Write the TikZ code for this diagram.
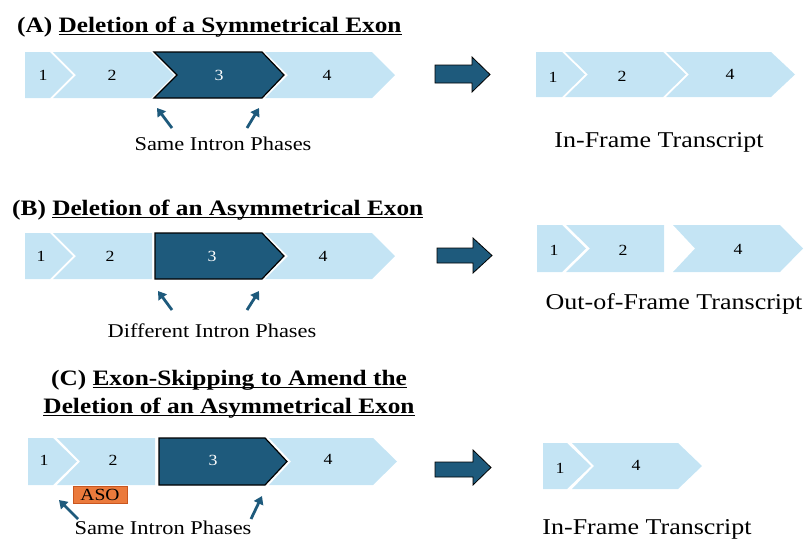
\documentclass[tikz,border=0pt]{standalone}
\usepackage{fontspec}
\setmainfont[FakeStretch=1.15]{Liberation Serif}
\usetikzlibrary{arrows.meta}
\definecolor{lightexon}{HTML}{C4E4F4}
\definecolor{darkexon}{HTML}{1E5A7C}
\definecolor{asofill}{HTML}{EB7A3C}
\definecolor{asoedge}{HTML}{C9561F}
\newsavebox\ulinebox
\newcommand{\ulin}[1]{\sbox\ulinebox{#1}\rlap{\rule[-3.2pt]{\wd\ulinebox}{1.5pt}}\usebox\ulinebox}
% style, xl, xr, yt, yb, notch, tip
\newcommand{\exonpoly}[7]{%
  \path[#1] (#2,#4) -- (#3,#4) -- ({#3+#7},{(#4+#5)/2}) -- (#3,#5) -- (#2,#5) -- ({#2+#6},{(#4+#5)/2}) -- cycle;}
% xl, xb, xt, ys1, ys2, yh1, yh2
\newcommand{\bigarr}[7]{%
  \path[bigarrow] (#1,#4) -- (#2,#4) -- (#2,#6) -- (#3,{(#6+#7)/2}) -- (#2,#7) -- (#2,#5) -- (#1,#5) -- cycle;}
\begin{document}
\begin{tikzpicture}[x=1pt,y=-1pt,
  lightex/.style={fill=lightexon},
  darkex/.style={fill=darkexon,draw=black,line width=1.2pt,line join=miter},
  bigarrow/.style={fill=darkexon,draw=black,line width=0.8pt},
  numlab/.style={font=\fontsize{15.5}{17}\selectfont,inner sep=0pt},
  numlabw/.style={numlab,text=white},
  title/.style={font=\fontsize{22}{28}\selectfont\bfseries,inner sep=0pt},
  caption/.style={font=\fontsize{19.5}{22}\selectfont,inner sep=0pt},
  bigcaption/.style={font=\fontsize{22.6}{26}\selectfont,inner sep=0pt},
  phasearrow/.style={draw=darkexon,line width=2.8pt,-{Triangle[width=10pt,length=8pt]}},
  asobox/.style={fill=asofill,draw=asoedge,line width=1pt,minimum width=54pt,minimum height=17pt,inner sep=0pt,font=\fontsize{17}{18}\selectfont}
]
\useasboundingbox (0,0) rectangle (804,539);

% ---------------- Panel A ----------------
\node[title,anchor=base west] (titleA) at (17,32) {(A) \ulin{Deletion of a Symmetrical Exon}};
\exonpoly{lightex}{25}{50}{52}{98}{0}{23}
\exonpoly{lightex}{53}{151}{52}{98}{23}{23}
\exonpoly{darkex}{154}{262}{52}{98}{23}{22}
\exonpoly{lightex}{265}{372}{52}{98}{23}{23}
\node[numlab] (a1) at (43,75) {1};
\node[numlab] (a2) at (112,75) {2};
\node[numlabw] (a3) at (219,75) {3};
\node[numlab] (a4) at (327,75) {4};
\coordinate (pa1s) at (172,128); \coordinate (pa1e) at (157,108);
\coordinate (pa2s) at (247,128); \coordinate (pa2e) at (259,108);
\draw[phasearrow] (pa1s) -- (pa1e);
\draw[phasearrow] (pa2s) -- (pa2e);
\node[caption,anchor=base] (capA) at (223,150) {Same Intron Phases};
\bigarr{435}{472}{490}{65}{83}{57}{92}
\exonpoly{lightex}{536}{562}{52}{97}{0}{23}
\exonpoly{lightex}{565}{663}{52}{97}{23}{23}
\exonpoly{lightex}{666}{771}{52}{97}{23}{24}
\node[numlab] (ta1) at (553,77) {1};
\node[numlab] (ta2) at (622,76) {2};
\node[numlab] (ta4) at (730,74) {4};
\node[bigcaption,anchor=base] (resA) at (659,147) {In-Frame Transcript};

% ---------------- Panel B ----------------
\node[title,anchor=base west] (titleB) at (12,215) {(B) \ulin{Deletion of an Asymmetrical Exon}};
\exonpoly{lightex}{25}{50}{233}{279}{0}{23}
\exonpoly{lightex}{53}{152}{233}{279}{23}{0}
\exonpoly{darkex}{155}{262}{233}{279}{0}{22}
\exonpoly{lightex}{265}{372}{233}{279}{23}{23}
\node[numlab] (b1) at (41,256) {1};
\node[numlab] (b2) at (110,256) {2};
\node[numlabw] (b3) at (212,256) {3};
\node[numlab] (b4) at (323,256) {4};
\coordinate (pb1s) at (172,310); \coordinate (pb1e) at (158,291);
\coordinate (pb2s) at (247,310); \coordinate (pb2e) at (259,291);
\draw[phasearrow] (pb1s) -- (pb1e);
\draw[phasearrow] (pb2s) -- (pb2e);
\node[caption,anchor=base] (capB) at (212,337) {Different Intron Phases};
\bigarr{437}{473}{492}{248}{263}{238}{273}
\exonpoly{lightex}{537}{562}{225}{272}{0}{24}
\exonpoly{lightex}{566}{664}{225}{272}{24}{0}
\exonpoly{lightex}{673}{780}{225}{272}{22}{23}
\node[numlab] (tb1) at (554,250) {1};
\node[numlab] (tb2) at (623,250) {2};
\node[numlab] (tb4) at (738,249) {4};
\node[bigcaption,anchor=base] (resB) at (674,309) {Out-of-Frame Transcript};

% ---------------- Panel C ----------------
\node[title,anchor=base,align=center] (titleC1) at (229,385) {(C) \ulin{Exon-Skipping to Amend the}};
\node[title,anchor=base,align=center] (titleC2) at (229,413) {\ulin{Deletion of an Asymmetrical Exon}};
\exonpoly{lightex}{28}{53}{438}{485}{0}{24}
\exonpoly{lightex}{57}{155}{438}{485}{23}{0}
\exonpoly{darkex}{159}{265}{438}{485}{0}{22}
\exonpoly{lightex}{269}{373}{438}{485}{22}{24}
\node[numlab] (c1) at (44,460) {1};
\node[numlab] (c2) at (113,460) {2};
\node[numlabw] (c3) at (213,460) {3};
\node[numlab] (c4) at (328,459) {4};
\node[asobox] (aso) at (100,494.5) {ASO};
\coordinate (pc1s) at (78,519); \coordinate (pc1e) at (59,500);
\coordinate (pc2s) at (251,519); \coordinate (pc2e) at (262,496);
\draw[phasearrow] (pc1s) -- (pc1e);
\draw[phasearrow] (pc2s) -- (pc2e);
\node[caption,anchor=base] (capC) at (163,534) {Same Intron Phases};
\bigarr{435}{473}{491}{462}{477}{450}{485}
\exonpoly{lightex}{543}{567}{443}{489}{0}{24}
\exonpoly{lightex}{572}{678}{443}{489}{22}{24}
\node[numlab] (tc1) at (560,468) {1};
\node[numlab] (tc4) at (636,465) {4};
\node[bigcaption,anchor=base] (resC) at (647,534) {In-Frame Transcript};
\end{tikzpicture}
\end{document}
